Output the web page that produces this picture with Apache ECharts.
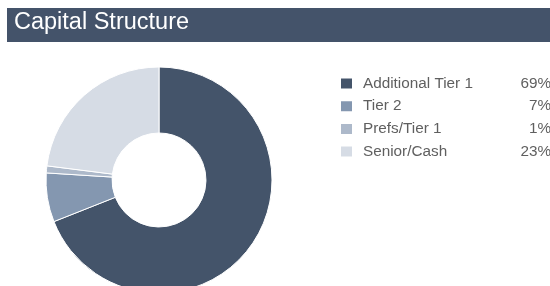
<!DOCTYPE html>
<html>
<head>
<meta charset="utf-8">
<script src="https://cdn.jsdelivr.net/npm/echarts@6/dist/echarts.min.js"></script>
<style>
  html, body { margin: 0; padding: 0; background: #fff; }
  #chartPie { width: 550px; height: 286px; }
</style>
</head>
<body>
<div id="chartPie"></div>
<script>
var categories = ['Additional Tier 1', 'Tier 2', 'Prefs/Tier 1', 'Senior/Cash'];
var shares = [69, 7, 1, 23];
var colors = ['#44546a', '#8497b0', '#adb9ca', '#d6dce5'];

var myChart = echarts.init(document.getElementById('chartPie'));

var pieData = [];
for (var i = 0; i < categories.length; i++) {
    pieData.push({ name: categories[i], value: shares[i] });
}

var option = {
    animation: false,
    color: colors,
    graphic: [{
        type: 'rect',
        left: 7,
        top: 8,
        shape: { width: 543, height: 34 },
        style: { fill: '#44536a' },
        z: 0
    }, {
        type: 'text',
        left: 14,
        top: 11,
        style: {
            text: 'Capital Structure',
            fill: '#ffffff',
            fontSize: 23.5,
            fontFamily: 'Liberation Sans, Arial, sans-serif'
        },
        z: 1
    }],
    legend: {
        orient: 'vertical',
        left: 339,
        top: 76,
        padding: 0,
        itemWidth: 13,
        itemHeight: 12,
        itemGap: 7.7,
        icon: 'rect',
        data: categories,
        formatter: function (name) {
            var idx = categories.indexOf(name);
            return '{n|' + name + '}{v|' + shares[idx] + '%}';
        },
        textStyle: {
            rich: {
                n: { width: 155, padding: [0, 0, 0, 5], fontSize: 15.3, color: '#5f5f5f', fontFamily: 'Liberation Sans, Arial, sans-serif' },
                v: { width: 33, align: 'right', fontSize: 15.3, color: '#5f5f5f', fontFamily: 'Liberation Sans, Arial, sans-serif' }
            }
        }
    },
    series: [{
        name: 'Capital Structure',
        type: 'pie',
        center: [159, 180],
        radius: [47, 113],
        startAngle: 90,
        clockwise: true,
        label: { show: false },
        labelLine: { show: false },
        emphasis: { disabled: true },
        itemStyle: {
            borderColor: '#ffffff',
            borderWidth: 1
        },
        data: pieData
    }]
};

myChart.setOption(option);

window.onresize = function () {
    myChart.resize();
};
</script>
</body>
</html>
